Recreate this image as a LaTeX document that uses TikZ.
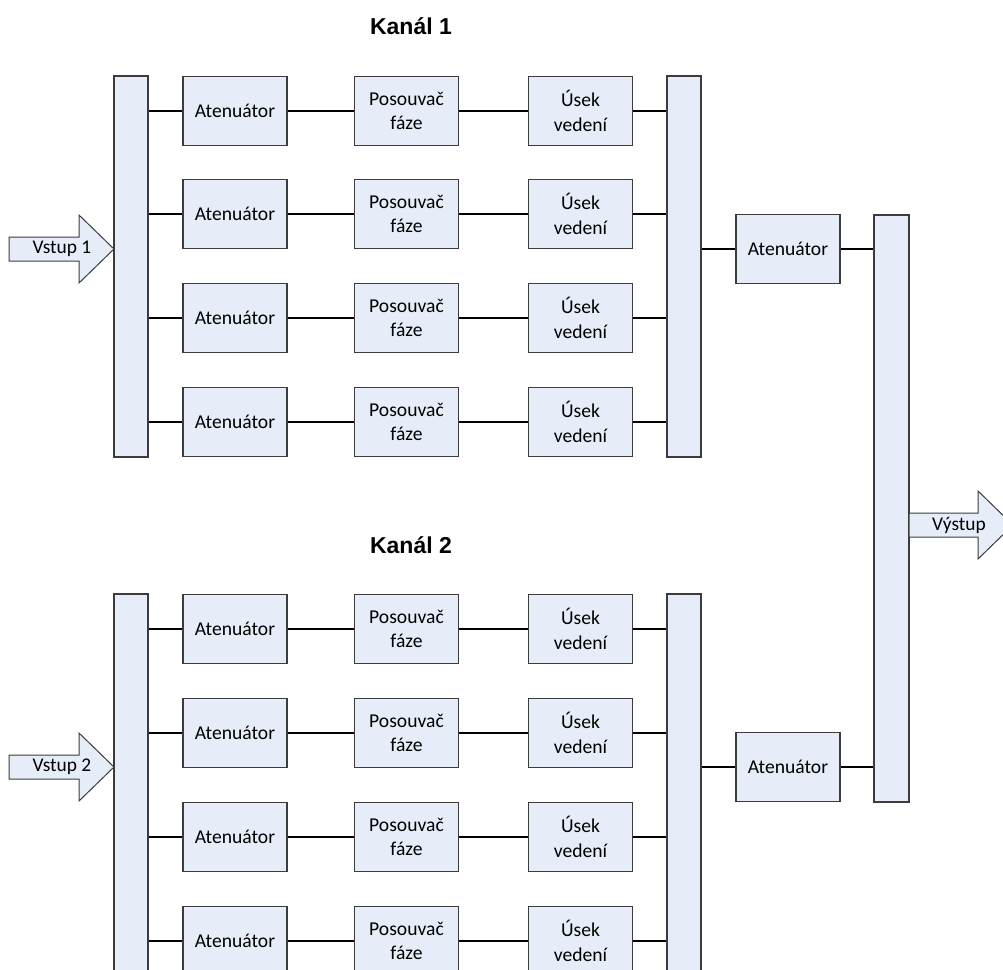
\documentclass[tikz,border=0pt]{standalone}
\usepackage{fontspec}
\setmainfont{Carlito}
\newfontfamily\headfont{Liberation Sans}
\begin{document}
\definecolor{boxfill}{RGB}{231,237,248}
\definecolor{boxline}{RGB}{60,60,60}
\begin{tikzpicture}[x=1pt,y=-1pt,
  block/.style={draw=boxline,fill=boxfill,line width=1.2pt,inner sep=0pt,
    minimum width=104pt,minimum height=69pt,align=center,
    font=\fontsize{19.6}{24.5}\selectfont},
  bar/.style={draw=boxline,fill=boxfill,line width=1.2pt,inner sep=0pt,minimum width=34pt},
  wire/.style={line width=2pt,black},
  bigarrow/.style={draw=boxline,fill=boxfill,line width=1pt,line join=miter},
  arrowtext/.style={font=\fontsize{19.4}{23}\selectfont,inner sep=0pt},
  title/.style={font=\headfont\bfseries\fontsize{23}{27}\selectfont,inner sep=0pt}]
\useasboundingbox (0,0) rectangle (1003,969);
\clip (0,0) rectangle (1003,969);

% channel titles
\node[title] (t1) at (411,26) {Kanál 1};
\node[title] (t2) at (411,545) {Kanál 2};

% splitters and combiners
\node[bar,minimum height=381pt] (in1) at (131,266.5) {};
\node[bar,minimum height=381pt] (out1) at (684,266.5) {};
\node[bar,minimum height=420pt] (in2) at (131,804) {};
\node[bar,minimum height=420pt] (out2) at (684,804) {};
\node[bar,minimum width=35pt,minimum height=587pt] (sum) at (891.5,508.5) {};

% channel 1
\foreach \r/\y in {1/111,2/214,3/318,4/422}{
  \node[block] (a1\r) at (235,\y) {Atenuátor};
  \node[block] (p1\r) at (406.5,\y) {Posouvač\\fáze};
  \node[block] (u1\r) at (580.5,\y) {Úsek\\vedení};
  \draw[wire] (a1\r.west -| in1.east) -- (a1\r.west);
  \draw[wire] (a1\r.east) -- (p1\r.west);
  \draw[wire] (p1\r.east) -- (u1\r.west);
  \draw[wire] (u1\r.east) -- (u1\r.east -| out1.west);
}

% channel 2
\foreach \r/\y in {1/629,2/733,3/837,4/941}{
  \node[block] (a2\r) at (235,\y) {Atenuátor};
  \node[block] (p2\r) at (406.5,\y) {Posouvač\\fáze};
  \node[block] (u2\r) at (580.5,\y) {Úsek\\vedení};
  \draw[wire] (a2\r.west -| in2.east) -- (a2\r.west);
  \draw[wire] (a2\r.east) -- (p2\r.west);
  \draw[wire] (p2\r.east) -- (u2\r.west);
  \draw[wire] (u2\r.east) -- (u2\r.east -| out2.west);
}

% channel attenuators before summation
\node[block] (m1) at (788,249) {Atenuátor};
\node[block] (m2) at (788,767) {Atenuátor};
\draw[wire] (m1.west -| out1.east) -- (m1.west);
\draw[wire] (m1.east) -- (m1.east -| sum.west);
\draw[wire] (m2.west -| out2.east) -- (m2.west);
\draw[wire] (m2.east) -- (m2.east -| sum.west);

% input and output block arrows
\draw[bigarrow] (9,237) -- (79,237) -- (79,215) -- (114,249) -- (79,283) -- (79,261) -- (9,261) -- cycle;
\node[arrowtext] (v1) at (62,249) {Vstup 1};
\draw[bigarrow] (9,755) -- (79,755) -- (79,733) -- (114,767) -- (79,801) -- (79,779) -- (9,779) -- cycle;
\node[arrowtext] (v2) at (62,767) {Vstup 2};
\draw[bigarrow] (909,513) -- (978,513) -- (978,491) -- (1013,525) -- (978,559) -- (978,537) -- (909,537) -- cycle;
\node[arrowtext] (vy) at (959,525) {Výstup};
\end{tikzpicture}
\end{document}
